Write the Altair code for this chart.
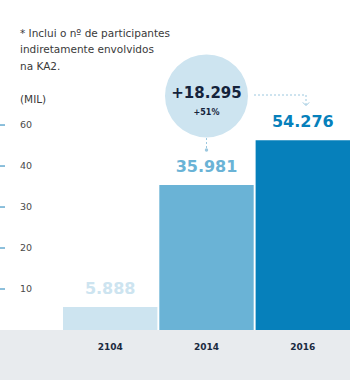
import altair as alt
import pandas as pd

# ---- data ----
years = ["2104", "2014", "2016"]
value_labels = ["5.888", "35.981", "54.276"]
bar_heights = [5.6, 35.4, 46.3]          # heights as drawn against the axis (thousands)
bar_colors = ["#cde4f0", "#6ab3d6", "#0680bb"]
label_colors = ["#cde4f0", "#6ab3d6", "#0680bb"]

tick_values = [10, 20, 30, 40, 50]
tick_labels = ["10", "20", "30", "40", "60"]

note_lines = ["* Inclui o nº de participantes", "indiretamente envolvidos", "na KA2."]
unit_label = "(MIL)"
delta_text = "+18.295"
delta_pct = "+51%"

FONT = "DejaVu Sans"

bars = pd.DataFrame({"year": years, "h": bar_heights, "label": value_labels,
                     "color": bar_colors, "lcolor": label_colors})
ticks = pd.DataFrame({"h": tick_values, "t": tick_labels})

xs = alt.Scale(domain=years, range=[63, 350], paddingInner=0.02, paddingOuter=0)
ys = alt.Scale(domain=[0, 80.5], range=[330, 0])

X = alt.X("year:N", scale=xs, axis=None, sort=years)
Y = alt.Y("h:Q", scale=ys, axis=None)

one = pd.DataFrame({"a": [0]})

band = alt.Chart(one).mark_rect(color="#e8ebee").encode(
    x=alt.value(0), x2=alt.value(350), y=alt.value(330), y2=alt.value(380))

bar_layer = alt.Chart(bars).mark_bar(cornerRadius=0).encode(
    x=X, y=Y, y2=alt.datum(0), color=alt.Color("color:N", scale=None))

val_text = alt.Chart(bars).mark_text(font=FONT, fontWeight="bold", fontSize=16,
                                     baseline="middle", dy=-18).encode(
    x=X, y=Y, text="label:N", color=alt.Color("lcolor:N", scale=None))

year_text = alt.Chart(bars).mark_text(font=FONT, fontWeight="bold", fontSize=9,
                                      color="#1a2a40", baseline="middle").encode(
    x=X, y=alt.value(347), text="year:N")

tick_rules = alt.Chart(ticks).mark_rule(color="#1a80b8", strokeWidth=1).encode(
    x=alt.value(0), x2=alt.value(5), y=Y)

tick_text = alt.Chart(ticks).mark_text(font=FONT, fontSize=9.5, color="#4a4a4a",
                                       align="left", baseline="middle").encode(
    x=alt.value(20), y=Y, text="t:N")

note_layers = []
for line, py in zip(note_lines + [unit_label], [34, 50, 67, 100]):
    note_layers.append(alt.Chart(one).mark_text(font=FONT, fontSize=10.5, color="#3a3a3a",
                                                align="left", baseline="middle", text=line).encode(
        x=alt.value(20), y=alt.value(py)))

ann = pd.DataFrame({"year": ["2014"], "h": [57.1]})
circle = alt.Chart(ann).mark_circle(size=6889, color="#cde4f0", opacity=1).encode(x=X, y=Y)
delta1 = alt.Chart(ann).mark_text(font=FONT, fontWeight="bold", fontSize=15, color="#14233c",
                                  baseline="middle", dy=-3, text=delta_text).encode(x=X, y=Y)
delta2 = alt.Chart(ann).mark_text(font=FONT, fontWeight="bold", fontSize=8, color="#14233c",
                                  baseline="middle", dy=17, text=delta_pct).encode(x=X, y=Y)

conn = alt.Chart(ann).mark_rule(color="#9cc8df", strokeDash=[2, 2], strokeWidth=1).encode(
    x=X, y=alt.value(138), y2=alt.value(150))
dot = alt.Chart(ann).mark_point(filled=True, color="#9cc8df", size=12, opacity=1).encode(
    x=X, y=alt.value(150))

arr_h = alt.Chart(one).mark_rule(color="#9cc8df", strokeDash=[2, 2], strokeWidth=1).encode(
    x=alt.value(254), x2=alt.value(306), y=alt.value(95))
arr_v = alt.Chart(one).mark_rule(color="#9cc8df", strokeDash=[2, 2], strokeWidth=1).encode(
    x=alt.value(306), y=alt.value(95), y2=alt.value(105))
arr_head = alt.Chart(one).mark_point(
    shape="M-1,-0.5L0,0.5L1,-0.5", color="#9cc8df", strokeWidth=1, size=40, filled=False,
    opacity=1).encode(x=alt.value(306), y=alt.value(104))

chart = alt.layer(band, bar_layer, val_text, year_text, tick_rules, tick_text, *note_layers,
                  circle, delta1, delta2, conn, dot, arr_h, arr_v, arr_head).properties(
    width=350, height=380, padding=0, autosize=alt.AutoSizeParams(type="none"),
    background="white").configure_view(stroke=None)

chart.save("out.html", embed_options={"renderer": "svg", "actions": False})
